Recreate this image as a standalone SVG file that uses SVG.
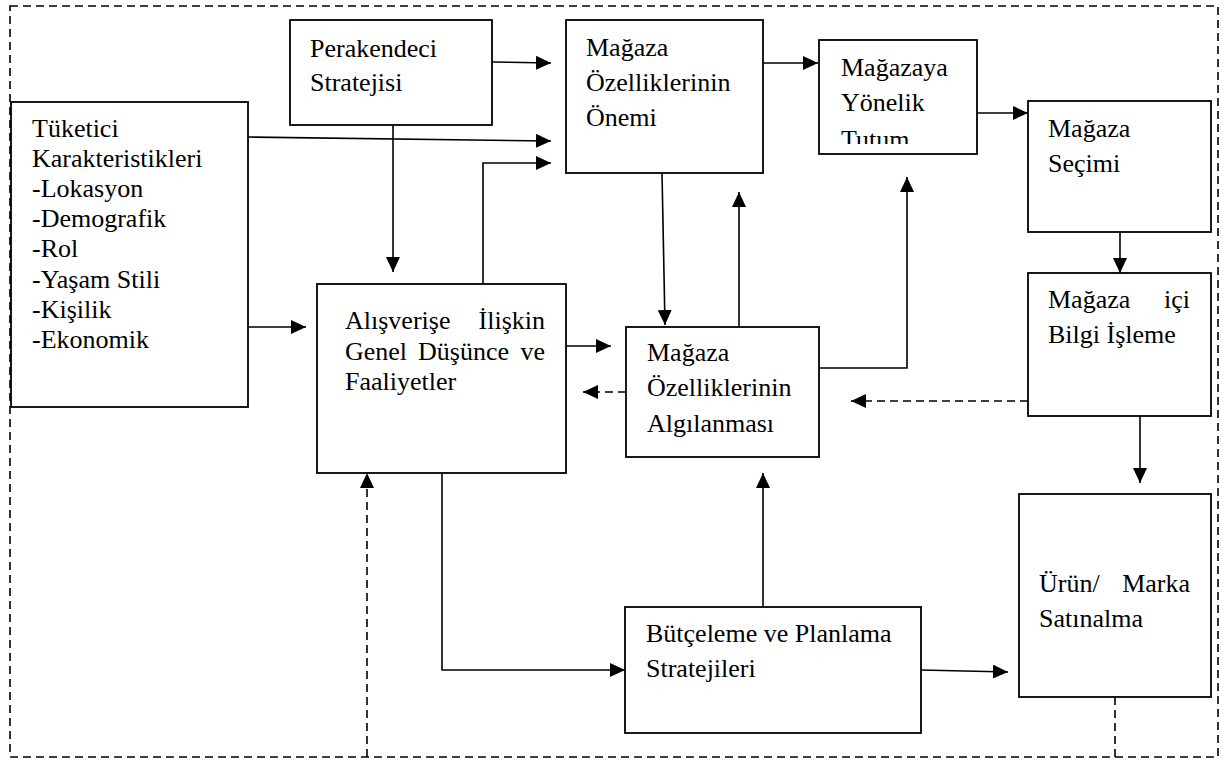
<svg xmlns="http://www.w3.org/2000/svg" width="1227" height="762" viewBox="0 0 1227 762">
<style>
.box{fill:#fff;stroke:#000;stroke-width:1.8}
.t{font-family:"Liberation Serif","Times New Roman",serif;font-size:26px;fill:#000}
.c{fill:none;stroke:#000;stroke-width:1.6}
.d{fill:none;stroke:#000;stroke-width:1.6;stroke-dasharray:8 5}
.frame{fill:none;stroke:#000;stroke-width:1.6;stroke-dasharray:8 5}
</style>
<defs>
<marker id="ah" markerUnits="userSpaceOnUse" markerWidth="16" markerHeight="14" refX="15" refY="7" orient="auto">
<path d="M0,0 L15,7 L0,14 z" fill="#000"/>
</marker>
<clipPath id="tutumClip"><rect x="819" y="40" width="158" height="104"/></clipPath>
</defs>
<rect class="frame" x="10" y="6" width="1208" height="751"/>
<g id="connectors">
<line class="c" x1="492" y1="62" x2="551" y2="63" marker-end="url(#ah)"/>
<line class="c" x1="248" y1="137" x2="551" y2="141" marker-end="url(#ah)"/>
<polyline class="c" points="483,284 483,163 551,163" marker-end="url(#ah)"/>
<line class="c" x1="393" y1="125" x2="393" y2="272" marker-end="url(#ah)"/>
<line class="c" x1="248" y1="327" x2="306" y2="327" marker-end="url(#ah)"/>
<line class="c" x1="762" y1="63" x2="818" y2="63" marker-end="url(#ah)"/>
<line class="c" x1="968" y1="113" x2="1028" y2="113" marker-end="url(#ah)"/>
<line class="c" x1="662" y1="173" x2="665" y2="325" marker-end="url(#ah)"/>
<line class="c" x1="739" y1="327" x2="739" y2="192" marker-end="url(#ah)"/>
<line class="c" x1="566" y1="346" x2="611" y2="346" marker-end="url(#ah)"/>
<line class="d" x1="626" y1="392" x2="583" y2="392" marker-end="url(#ah)"/>
<polyline class="c" points="819,368 907,368 907,177" marker-end="url(#ah)"/>
<line class="c" x1="1120" y1="232" x2="1120" y2="273" marker-end="url(#ah)"/>
<line class="d" x1="1028" y1="401" x2="851" y2="401" marker-end="url(#ah)"/>
<line class="c" x1="1140" y1="416" x2="1140" y2="483" marker-end="url(#ah)"/>
<polyline class="c" points="442,473 442,670 625,670" marker-end="url(#ah)"/>
<line class="c" x1="763" y1="607" x2="763" y2="473" marker-end="url(#ah)"/>
<line class="c" x1="921" y1="670" x2="1008" y2="672" marker-end="url(#ah)"/>
<line class="d" x1="1115" y1="697" x2="1115" y2="757"/>
<line class="d" x1="367" y1="757" x2="367" y2="473" marker-end="url(#ah)"/>
</g>
<g id="perakendeci">
<rect class="box" x="290" y="20" width="202" height="105"/>
<text class="t" x="310" y="57">Perakendeci</text>
<text class="t" x="310" y="91">Stratejisi</text>
</g>
<g id="tuketici">
<rect class="box" x="11" y="102" width="237" height="305"/>
<text class="t" x="32" y="137">Tüketici</text>
<text class="t" x="32" y="167">Karakteristikleri</text>
<text class="t" x="32" y="197">-Lokasyon</text>
<text class="t" x="32" y="227">-Demografik</text>
<text class="t" x="32" y="257">-Rol</text>
<text class="t" x="32" y="288">-Yaşam Stili</text>
<text class="t" x="32" y="318">-Kişilik</text>
<text class="t" x="32" y="348">-Ekonomik</text>
</g>
<g id="onemi">
<rect class="box" x="566" y="20" width="197" height="153"/>
<text class="t" x="586" y="56">Mağaza</text>
<text class="t" x="586" y="91">Özelliklerinin</text>
<text class="t" x="586" y="126">Önemi</text>
</g>
<g id="tutum">
<rect class="box" x="819" y="40" width="158" height="114"/>
<text class="t" x="841" y="76">Mağazaya</text>
<text class="t" x="841" y="111">Yönelik</text>
<text class="t" x="841" y="148" clip-path="url(#tutumClip)">Tutum</text>
</g>
<g id="secimi">
<rect class="box" x="1028" y="101" width="183" height="131"/>
<text class="t" x="1048" y="137">Mağaza</text>
<text class="t" x="1048" y="172">Seçimi</text>
</g>
<g id="bilgi">
<rect class="box" x="1028" y="273" width="183" height="143"/>
<text class="t" x="1048" y="308">Mağaza</text>
<text class="t" x="1190" y="308" text-anchor="end">içi</text>
<text class="t" x="1048" y="343">Bilgi İşleme</text>
</g>
<g id="alisverise">
<rect class="box" x="317" y="284" width="249" height="189"/>
<text class="t" x="345" y="329">Alışverişe</text>
<text class="t" x="545" y="329" text-anchor="end">İlişkin</text>
<text class="t" x="345" y="360">Genel</text>
<text class="t" x="418" y="360">Düşünce</text>
<text class="t" x="545" y="360" text-anchor="end">ve</text>
<text class="t" x="345" y="390">Faaliyetler</text>
</g>
<g id="algilanmasi">
<rect class="box" x="626" y="327" width="193" height="130"/>
<text class="t" x="647" y="361">Mağaza</text>
<text class="t" x="647" y="396">Özelliklerinin</text>
<text class="t" x="647" y="432">Algılanması</text>
</g>
<g id="butceleme">
<rect class="box" x="625" y="607" width="296" height="126"/>
<text class="t" x="646" y="642">Bütçeleme ve Planlama</text>
<text class="t" x="646" y="677">Stratejileri</text>
</g>
<g id="urun">
<rect class="box" x="1019" y="494" width="192" height="203"/>
<text class="t" x="1039" y="592">Ürün/</text>
<text class="t" x="1190" y="592" text-anchor="end">Marka</text>
<text class="t" x="1039" y="627">Satınalma</text>
</g>
</svg>
